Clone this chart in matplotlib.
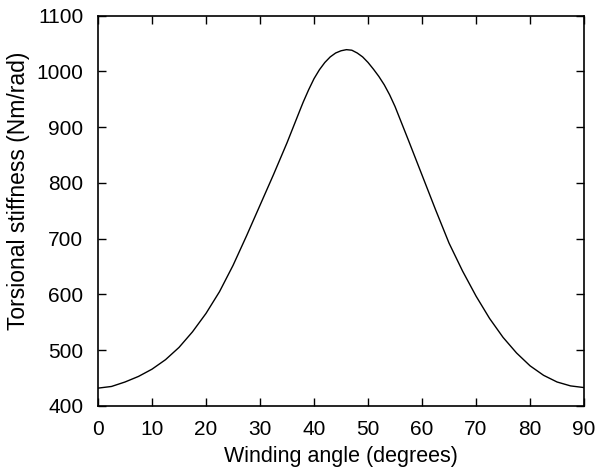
import matplotlib
matplotlib.use('Agg')
import matplotlib.pyplot as plt

# values
angle = [0, 2.5, 5, 7.5, 10, 12.5, 15, 17.5, 20, 22.5, 25, 27.5, 30, 32.5,
         35, 37.5, 38, 39, 40, 41, 42, 43, 44, 45, 46, 47, 48, 49, 50, 51,
         52, 53, 54, 55, 57.5, 60, 62.5, 65, 67.5, 70, 72.5, 75, 77.5, 80,
         82.5, 85, 87.5, 90]
stiffness = [432, 435, 443, 453, 466, 483, 505, 533, 566, 605, 652, 705, 760, 815,
             872, 933, 945, 967, 987, 1003, 1016, 1026, 1033, 1037, 1039, 1038, 1033, 1026, 1016, 1004,
             991, 976, 958, 937, 876, 814, 752, 692, 642, 597, 557, 523, 495, 472,
             455, 443, 436, 433]

xticks = list(range(0, 91, 10))
yticks = list(range(400, 1101, 100))

plt.rcParams['font.family'] = ['Liberation Sans', 'DejaVu Sans']

fig = plt.figure(figsize=(5.96, 4.74), dpi=100)
ax = fig.add_axes([0.1644, 0.1435, 0.8156, 0.8235])

ax.plot(angle, stiffness, color='black', linewidth=1.0)

ax.set_xlim(0, 90)
ax.set_ylim(400, 1100)
ax.set_xticks(xticks)
ax.set_yticks(yticks)
ax.tick_params(direction='in', length=5.5, width=1.0, top=True, right=True,
               labelsize=15)
ax.tick_params(axis='x', pad=10)
ax.tick_params(axis='y', pad=10.5)
for s in ax.spines.values():
    s.set_linewidth(1.2)

ax.set_xlabel('Winding angle (degrees)', fontsize=15.5)
ax.set_ylabel('Torsional stiffness (Nm/rad)', fontsize=16.5)
ax.xaxis.set_label_coords(0.5, -0.103)
ax.yaxis.set_label_coords(-0.14, 0.55)

fig.savefig('out.png', dpi=100)
